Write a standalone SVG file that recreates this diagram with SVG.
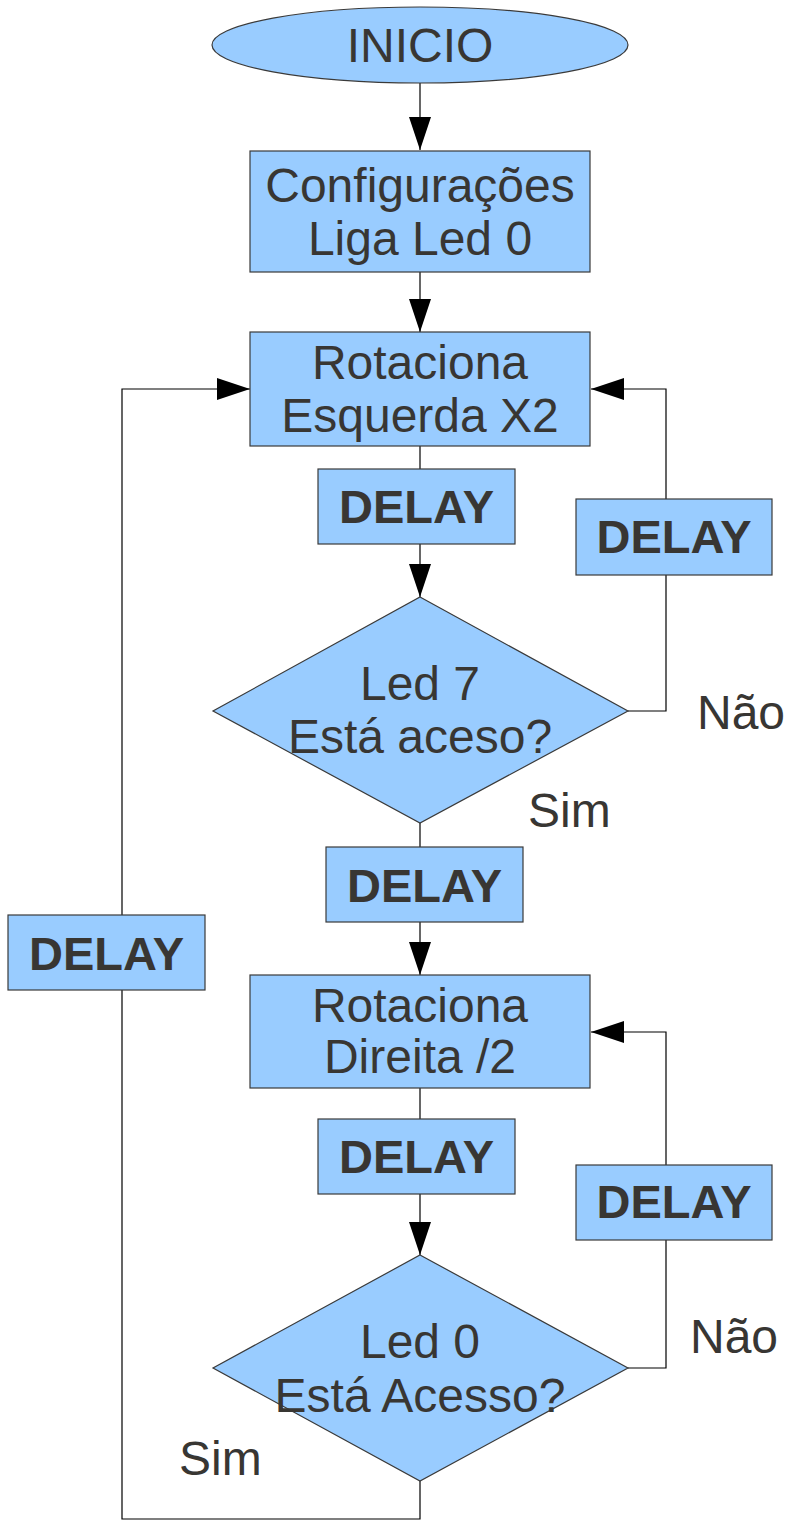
<svg xmlns="http://www.w3.org/2000/svg" width="786" height="1521" viewBox="0 0 786 1521">
<defs>
<style>
.n{fill:#99ccff;stroke:#3a3a3a;stroke-width:1.2}
.t{font-family:"Liberation Sans",Arial,sans-serif;font-size:48px;fill:#383633;text-anchor:middle}
.b{font-family:"Liberation Sans",Arial,sans-serif;font-size:47px;font-weight:bold;fill:#383633;text-anchor:middle}
.l{font-family:"Liberation Sans",Arial,sans-serif;font-size:48px;fill:#383633}
.c{fill:none;stroke:#000;stroke-width:1.2}
</style>
<marker id="ah" viewBox="0 0 33 22" refX="33" refY="11" markerWidth="33" markerHeight="22" markerUnits="userSpaceOnUse" orient="auto">
<path d="M0,0 L33,11 L0,22 Z" fill="#000"/>
</marker>
</defs>
<rect width="786" height="1521" fill="#fff"/>
<g id="connectors">
<path class="c" d="M420,83 V150" marker-end="url(#ah)"/>
<path class="c" d="M420,272 V332" marker-end="url(#ah)"/>
<path class="c" d="M420,446 V469"/>
<path class="c" d="M420,544 V597" marker-end="url(#ah)"/>
<path class="c" d="M628,711 H666 V389 H591" marker-end="url(#ah)"/>
<path class="c" d="M420,823 V847"/>
<path class="c" d="M420,922 V975" marker-end="url(#ah)"/>
<path class="c" d="M420,1088 V1119"/>
<path class="c" d="M420,1194 V1255" marker-end="url(#ah)"/>
<path class="c" d="M628,1368 H666 V1032 H591" marker-end="url(#ah)"/>
<path class="c" d="M420,1481 V1519 H122 V389 H250" marker-end="url(#ah)"/>
</g>
<g id="inicio">
<ellipse class="n" cx="420" cy="45" rx="208" ry="38"/>
<text class="t" x="420" y="62">INICIO</text>
</g>
<g id="config">
<rect class="n" x="250" y="151" width="340" height="121"/>
<text class="t" x="420" y="202">Configurações</text>
<text class="t" x="420" y="255">Liga Led 0</text>
</g>
<g id="rot-esq">
<rect class="n" x="250" y="332" width="340" height="114"/>
<text class="t" x="420" y="379">Rotaciona</text>
<text class="t" x="420" y="432">Esquerda X2</text>
</g>
<g id="delay1">
<rect class="n" x="318" y="469" width="197" height="75"/>
<text class="b" x="416.5" y="523">DELAY</text>
</g>
<g id="delay-r1">
<rect class="n" x="576" y="499" width="196" height="76"/>
<text class="b" x="674" y="553">DELAY</text>
</g>
<g id="dec1">
<polygon class="n" points="420,597 628,711 420,823 213,711"/>
<text class="t" x="420" y="700">Led 7</text>
<text class="t" x="420" y="753">Está aceso?</text>
</g>
<g id="labels1">
<text class="l" x="697" y="729">Não</text>
<text class="l" x="528" y="827">Sim</text>
</g>
<g id="delay2">
<rect class="n" x="326" y="847" width="197" height="75"/>
<text class="b" x="424.5" y="902">DELAY</text>
</g>
<g id="delay-left">
<rect class="n" x="8" y="915" width="197" height="75"/>
<text class="b" x="106.5" y="970">DELAY</text>
</g>
<g id="rot-dir">
<rect class="n" x="250" y="975" width="340" height="113"/>
<text class="t" x="420" y="1022">Rotaciona</text>
<text class="t" x="420" y="1073">Direita /2</text>
</g>
<g id="delay3">
<rect class="n" x="318" y="1119" width="197" height="75"/>
<text class="b" x="416.5" y="1173">DELAY</text>
</g>
<g id="delay-r2">
<rect class="n" x="576" y="1165" width="196" height="75"/>
<text class="b" x="674" y="1218">DELAY</text>
</g>
<g id="dec2">
<polygon class="n" points="420,1255 628,1368 420,1481 213,1368"/>
<text class="t" x="420" y="1358">Led 0</text>
<text class="t" x="420" y="1412">Está Acesso?</text>
</g>
<g id="labels2">
<text class="l" x="690" y="1353">Não</text>
<text class="l" x="179" y="1475">Sim</text>
</g>
</svg>
